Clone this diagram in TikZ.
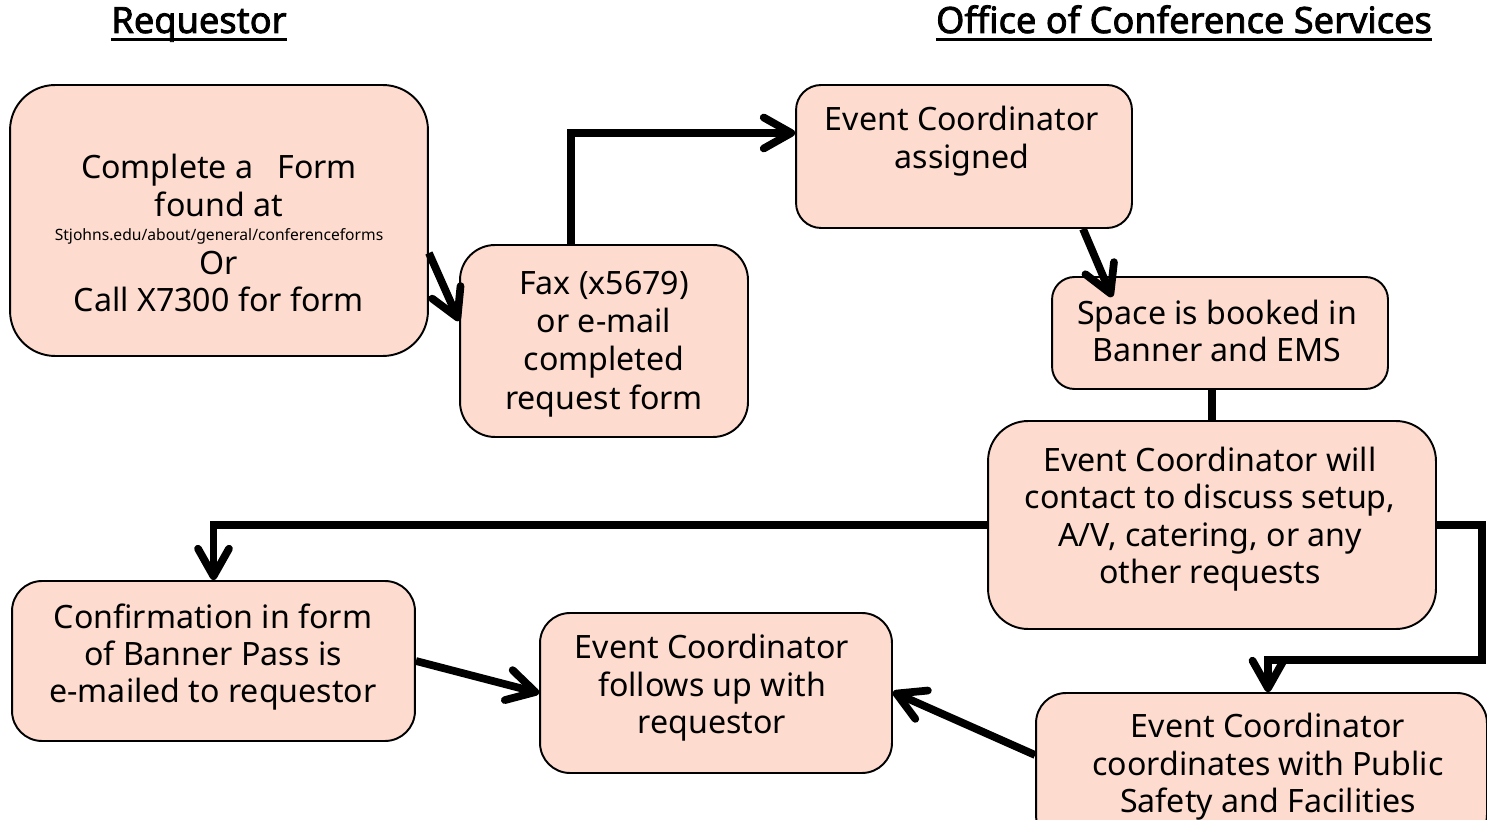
\documentclass[tikz,border=0pt]{standalone}
\usepackage{fontspec}
\setmainfont{Noto Sans}
\newfontfamily\headfont{Noto Sans}[FakeBold=2.2]
\usetikzlibrary{arrows.meta,calc}

\definecolor{boxfill}{RGB}{253,220,207}

\tikzset{
  box/.style={draw, line width=1.1pt, fill=boxfill},
  txt/.style={align=center, inner sep=0pt, font=\fontsize{18.3}{21.3}\selectfont},
  head/.style={inner sep=0pt, anchor=base, font=\headfont\fontsize{20.6}{24}\selectfont},
  flow/.style={line width=4.4pt, line join=miter,
    -{Straight Barb[length=0.55cm,width=0.62cm,round]}},
}

\begin{document}
\begin{tikzpicture}[x=0.02cm, y=-0.02cm]
\path[use as bounding box] (0,0) rectangle (1487,820);
\clip (0,0) rectangle (1487,820);

% column headings, underlined by hand
\node[head] (req) at (199,33) {Requestor};
\node[head] (ocs) at (1184,33) {Office of Conference Services};
\draw[line width=1.6pt] ([yshift=-3.6pt]req.base west) -- ([yshift=-3.6pt]req.base east);
\draw[line width=1.6pt] ([yshift=-3.6pt]ocs.base west) -- ([yshift=-3.6pt]ocs.base east);

% boxes
\node[box, minimum width=8.36cm, minimum height=5.42cm, rounded corners=0.9cm] (form) at (219,220.5) {};
\node[box, minimum width=5.76cm, minimum height=3.84cm, rounded corners=0.7cm] (fax) at (604,341) {};
\node[box, minimum width=6.72cm, minimum height=2.86cm, rounded corners=0.5cm] (assigned) at (964,156.5) {};
\node[box, minimum width=6.72cm, minimum height=2.24cm, rounded corners=0.45cm] (booked) at (1220,333) {};
\node[box, minimum width=8.96cm, minimum height=4.16cm, rounded corners=0.8cm] (contact) at (1212,525) {};
\node[box, minimum width=8.06cm, minimum height=3.2cm, rounded corners=0.6cm] (confirm) at (213.5,661) {};
\node[box, minimum width=7.04cm, minimum height=3.2cm, rounded corners=0.6cm] (followup) at (716,693) {};
\node[box, minimum width=9.02cm, minimum height=3.04cm, rounded corners=0.6cm] (safety) at (1261.5,769) {};

% box texts
\node[txt] (formtxt) at (219,233) {Complete a\hspace{0.75em}Form\\found at\\[-7.4pt]
  {\fontsize{8.9}{10}\selectfont Stjohns.edu/about/general/conferenceforms}\\[-2.2pt]
  Or\\Call X7300 for form};
\node[txt] (faxtxt) at (604,344) {Fax (x5679)\\[0.5pt]or e-mail\\[0.5pt]completed\\[0.8pt]request form};
\node[txt] (assignedtxt) at (962,141) {Event Coordinator\\assigned};
\node[txt] (bookedtxt) at (1217,331) {Space is booked in\\Banner and EMS};
\node[txt] (contacttxt) at (1210,519) {Event Coordinator will\\contact to discuss setup,\\A/V, catering, or any\\other requests};
\node[txt] (confirmtxt) at (213,657) {Confirmation in form\\of Banner Pass is\\e-mailed to requestor};
\node[txt] (followuptxt) at (712,688) {Event Coordinator\\follows up with\\requestor};
\node[txt] (safetytxt) at (1268,767) {Event Coordinator\\coordinates with Public\\Safety and Facilities};

% connectors
\draw[flow] (form.east |- 0,253) -- (fax.west |- 0,321);
\draw[flow] (fax.north -| 571,0) |- (assigned.west |- 0,133);
\draw[flow] (assigned.south -| 1083,0) -- ($(booked.north -| 1112,0)+(0,21)$);
\draw[line width=4.4pt] (booked.south -| contact.north) -- (contact.north);
\draw[flow] (contact.west) -| (confirm.north);
\draw[flow] (contact.east) -| (1482,660) -| (safety.north -| 1268,0);
\draw[flow] (safety.west |- 0,755) -- (followup.east |- 0,692);
\draw[flow] (confirm.east) -- (followup.west);
\end{tikzpicture}
\end{document}
